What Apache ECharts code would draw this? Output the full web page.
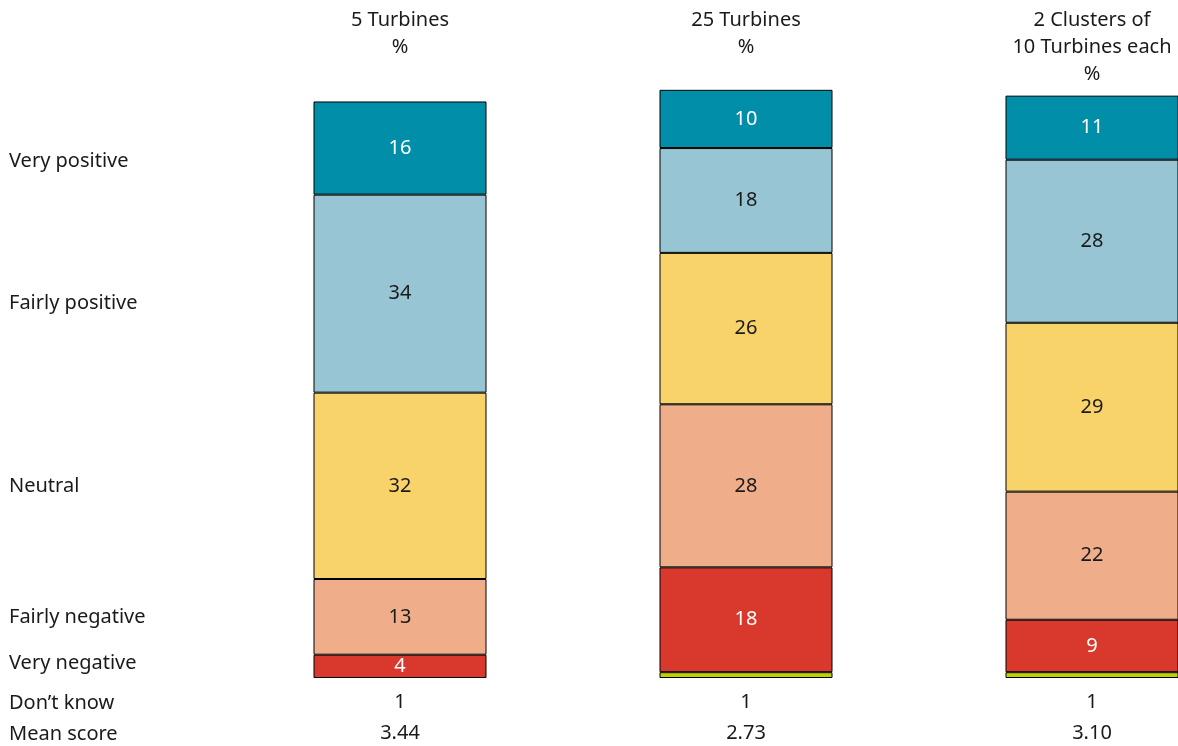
<!DOCTYPE html>
<html>
<head>
<meta charset="utf-8">
<style>
  html, body { margin: 0; padding: 0; background: #ffffff; }
  #chart { width: 1178px; height: 746px; }
</style>
<script src="https://cdn.jsdelivr.net/npm/echarts@6/dist/echarts.min.js"></script>
</head>
<body>
<div id="chart"></div>
<script>
// Column headings
const groups = ['5 Turbines\n%', '25 Turbines\n%', '2 Clusters of\n10 Turbines each\n%'];

// Attitude shares per group (%)
const veryPositive   = [16, 10, 11];
const fairlyPositive = [34, 18, 28];
const neutral        = [32, 26, 29];
const fairlyNegative = [13, 28, 22];
const veryNegative   = [4, 18, 9];
const dontKnowBar    = [null, 1, 1];   // segment drawn at the foot of the column
const dontKnow       = ['1', '1', '1']; // figures in the "Don't know" row
const meanScore      = ['3.44', '2.73', '3.10'];

const rowLabels = [
  { text: 'Very positive',   y: 160 },
  { text: 'Fairly positive', y: 302 },
  { text: 'Neutral',         y: 485 },
  { text: 'Fairly negative', y: 616 },
  { text: 'Very negative',   y: 662 },
  { text: 'Don\u2019t know', y: 702 },
  { text: 'Mean score',      y: 733 }
];

const FONT = '"Noto Sans", "Open Sans", sans-serif';
const TXT = '#1a1a1a';
const FS = 20;

function seg(name, data, color, labelColor) {
  return {
    name: name,
    type: 'bar',
    stack: 'all',
    data: data,
    barWidth: '50%',
    clip: false,
    itemStyle: { color: color, borderColor: '#000000', borderWidth: 1 },
    label: {
      show: labelColor !== null,
      position: 'inside',
      color: labelColor || TXT,
      fontFamily: FONT,
      fontSize: FS
    },
    emphasis: { disabled: true }
  };
}

const chart = echarts.init(document.getElementById('chart'), null, { renderer: 'canvas' });

chart.setOption({
  animation: false,
  backgroundColor: '#ffffff',
  grid: {
    left: 227, top: 84, width: 1038, bottom: 68,
    containLabel: false,
    outerBoundsMode: 'none'
  },
  xAxis: [
    {
      type: 'category',
      data: groups.map((g, i) => dontKnow[i] + '\n' + meanScore[i]),
      axisLine: { show: false },
      axisTick: { show: false },
      axisLabel: {
        interval: 0,
        margin: 9,
        color: TXT,
        fontFamily: FONT,
        fontSize: FS,
        lineHeight: 31
      }
    },
    {
      type: 'category',
      position: 'top',
      data: groups,
      axisLine: { show: false },
      axisTick: { show: false },
      axisLabel: {
        interval: 0,
        margin: 77,
        verticalAlign: 'top',
        color: TXT,
        fontFamily: FONT,
        fontSize: FS,
        lineHeight: 27
      }
    }
  ],
  yAxis: {
    type: 'value',
    min: 0,
    max: 102,
    show: false,
    splitLine: { show: false }
  },
  graphic: rowLabels.map(r => ({
    type: 'text',
    left: 9,
    top: r.y - 9,
    style: {
      text: r.text,
      fill: TXT,
      font: FS + 'px ' + FONT,
      textVerticalAlign: 'top'
    }
  })),
  series: [
    seg("Don't know",      dontKnowBar,    '#c2cf00', null),
    seg('Very negative',   veryNegative,   '#d9382d', '#ffffff'),
    seg('Fairly negative', fairlyNegative, '#f0ad8a', TXT),
    seg('Neutral',         neutral,        '#f8d36a', TXT),
    seg('Fairly positive', fairlyPositive, '#97c5d3', TXT),
    seg('Very positive',   veryPositive,   '#008ea8', '#ffffff')
  ]
});
</script>
</body>
</html>
